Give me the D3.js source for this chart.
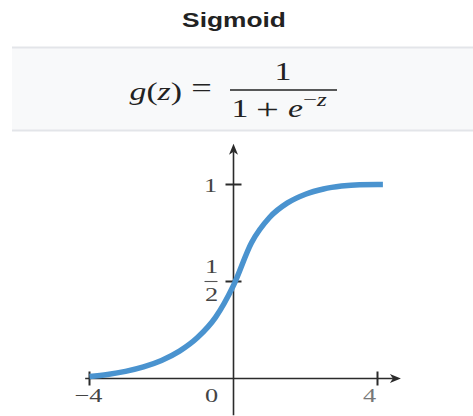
<!DOCTYPE html>
<html>
<head>
<meta charset="utf-8">
<script src="https://cdn.jsdelivr.net/npm/d3@7"></script>
<style>
  html, body { margin: 0; padding: 0; background: #fff; }
  svg { display: block; }
</style>
</head>
<body>
<svg id="chart" width="473" height="416"></svg>
<script>
// Sigmoid curve samples: z and g(z)
const zValues = [-4, -3.5, -3, -2.5, -2, -1.5, -1, -0.5, 0, 0.5, 1, 1.5, 2, 2.5, 3, 3.5, 4, 4.15];
const gValues = [0.010, 0.021, 0.037, 0.060, 0.093, 0.141, 0.211, 0.315, 0.48, 0.70, 0.83, 0.905, 0.950, 0.977, 0.992, 0.999, 1.0, 1.0];

// Axis ticks and labels
const xTicks = [-4, 4];
const xTickLabels = ["\u22124", "4"];
const originLabel = "0";
const yTicks = [0.5, 1];
const yTickLabels = [["1", "2"], "1"];

// Axis extents (data units)
const xAxisExtent = [-4.12, 4.65];
const yAxisExtent = [-0.19, 1.21];

const svg = d3.select("#chart");

const x = d3.scaleLinear().domain([-4, 4]).range([89.5, 377.5]);
const y = d3.scaleLinear().domain([0, 1]).range([378.5, 184.5]);

const ink = "#2b2b2b";
const serif = "'Liberation Serif', 'DejaVu Serif', serif";
const SX = 1.35; // horizontal widening of the lettering

// Text helper: places a horizontally widened text element
function stext(parent, px, py, anchor) {
  return parent.append("text")
    .attr("transform", `translate(${px},${py}) scale(${SX},1)`)
    .attr("text-anchor", anchor || "start");
}

// Title
stext(svg, 234, 27, "middle")
  .attr("font-family", "'Liberation Sans', Arial, sans-serif")
  .attr("font-weight", "bold")
  .attr("font-size", 19.5)
  .attr("fill", "#222")
  .text("Sigmoid");

// Formula panel
svg.append("rect")
  .attr("x", 12).attr("y", 47).attr("width", 461).attr("height", 84)
  .attr("fill", "#f8f9fa");
svg.append("line").attr("x1", 12).attr("x2", 473).attr("y1", 47.5).attr("y2", 47.5)
  .attr("stroke", "#e3e5e9").attr("stroke-width", 2);
svg.append("line").attr("x1", 12).attr("x2", 473).attr("y1", 130.5).attr("y2", 130.5)
  .attr("stroke", "#e3e5e9").attr("stroke-width", 2);

const f = svg.append("g").attr("font-family", serif).attr("fill", "#222").attr("font-size", 25);
const lhs = stext(f, 182, 100, "end");
lhs.append("tspan").attr("font-style", "italic").text("g");
lhs.append("tspan").text("(");
lhs.append("tspan").attr("font-style", "italic").text("z");
lhs.append("tspan").text(")");
stext(f, 201.5, 97, "middle").attr("font-size", 27).text("=");
stext(f, 283, 80, "middle").text("1");
f.append("line").attr("x1", 230).attr("x2", 337).attr("y1", 90).attr("y2", 90)
  .attr("stroke", "#222").attr("stroke-width", 1.4);
stext(f, 240, 117, "middle").text("1");
stext(f, 267.5, 118.5, "middle").attr("font-size", 30).text("+");
stext(f, 288, 117).attr("font-style", "italic").text("e");
const sup = stext(f, 303, 106).attr("font-size", 18.5);
sup.append("tspan").text("\u2212");
sup.append("tspan").attr("font-style", "italic").text("z");

// Axes
const axes = svg.append("g").attr("stroke", ink).attr("stroke-width", 1.6);
axes.append("line")
  .attr("x1", x(xAxisExtent[0])).attr("x2", x(xAxisExtent[1]) - 8)
  .attr("y1", y(0)).attr("y2", y(0));
axes.append("line")
  .attr("x1", x(0)).attr("x2", x(0))
  .attr("y1", y(yAxisExtent[0])).attr("y2", y(yAxisExtent[1]) + 8);

// Arrowheads
const xEnd = x(xAxisExtent[1]);
svg.append("path")
  .attr("d", `M${xEnd},${y(0)} L${xEnd - 11},${y(0) - 4.5} L${xEnd - 8},${y(0)} L${xEnd - 11},${y(0) + 4.5} Z`)
  .attr("fill", ink);
const yEnd = y(yAxisExtent[1]);
svg.append("path")
  .attr("d", `M${x(0)},${yEnd} L${x(0) - 4.5},${yEnd + 11} L${x(0)},${yEnd + 8} L${x(0) + 4.5},${yEnd + 11} Z`)
  .attr("fill", ink);

// Curve
const line = d3.line()
  .x((d, i) => x(zValues[i]))
  .y(d => y(d))
  .curve(d3.curveMonotoneX);
svg.append("path")
  .datum(gValues)
  .attr("d", line)
  .attr("fill", "none")
  .attr("stroke", "#4a93cf")
  .attr("stroke-width", 5.5)
  .attr("stroke-linecap", "butt");

// Tick marks
axes.selectAll(".xt").data(xTicks).join("line")
  .attr("x1", d => x(d)).attr("x2", d => x(d))
  .attr("y1", y(0) - 7).attr("y2", y(0) + 7)
  .attr("stroke-width", 2);
axes.selectAll(".yt").data(yTicks).join("line")
  .attr("x1", x(0) - 8).attr("x2", x(0) + 8)
  .attr("y1", d => y(d)).attr("y2", d => y(d))
  .attr("stroke-width", 2);

// Tick labels
const lab = svg.append("g").attr("font-family", serif).attr("font-size", 19.5).attr("fill", "#444");
xTicks.forEach((t, i) => {
  stext(lab, x(t) - (i === 0 ? 1 : 8), 402, "middle")
    .attr("fill", i === 0 ? "#444" : "#777")
    .text(xTickLabels[i]);
});
stext(lab, x(0) - 22, 402, "middle").text(originLabel);

yTicks.forEach((t, i) => {
  const l = yTickLabels[i];
  if (Array.isArray(l)) {
    stext(lab, x(0) - 22, y(t) - 9, "middle").text(l[0]);
    lab.append("line").attr("x1", x(0) - 29).attr("x2", x(0) - 16)
      .attr("y1", y(t)).attr("y2", y(t)).attr("stroke", "#555").attr("stroke-width", 1.1);
    stext(lab, x(0) - 22, y(t) + 19.5, "middle").text(l[1]);
  } else {
    stext(lab, x(0) - 23, y(t) + 7, "middle").text(l);
  }
});
</script>
</body>
</html>
